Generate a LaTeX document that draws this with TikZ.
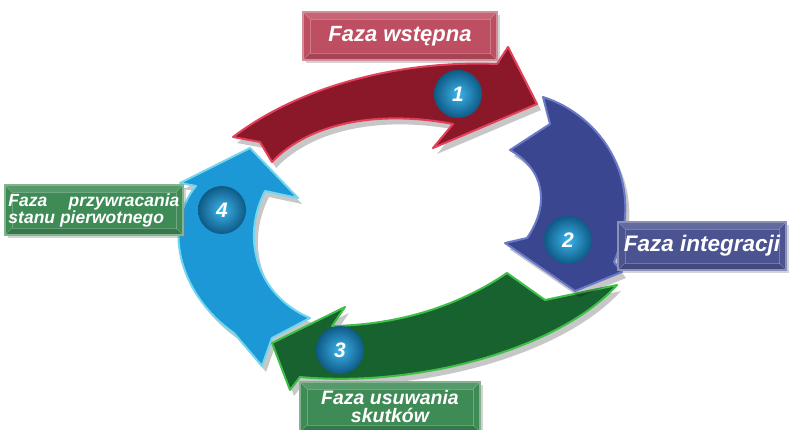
\documentclass[tikz,border=0pt]{standalone}
\usepackage{fontspec}
\setmainfont{Liberation Sans}
\usetikzlibrary{shadows}
\definecolor{redF}{HTML}{8A1828}
\definecolor{redR}{HTML}{E3405A}
\definecolor{purF}{HTML}{3B4690}
\definecolor{purR}{HTML}{6B7AC8}
\definecolor{grnF}{HTML}{17622E}
\definecolor{grnR}{HTML}{3FBF4A}
\definecolor{bluF}{HTML}{1C98D6}
\definecolor{bluR}{HTML}{72D6EE}
\definecolor{boxRed}{HTML}{BE4F62}
\definecolor{boxPur}{HTML}{4B5490}
\definecolor{boxGrn}{HTML}{3E8B55}
\definecolor{ballIn}{HTML}{3DB4EA}
\definecolor{ballOut}{HTML}{0E5A86}
\tikzset{
  arrowbody/.style={fill=#1F, draw=#1R, line width=2pt, line join=round},
  arrowshadow/.style={fill=black, opacity=.22, shift={(4,6)}},
  lbl/.style={draw=#1!65!white, line width=1.2pt, fill=#1, text=white,
    font=\bfseries\itshape\fontsize{22}{23}\selectfont, inner sep=0pt, align=center,
    drop shadow={opacity=.35, shadow xshift=3pt, shadow yshift=-3pt},
    path picture={
      \coordinate (nw) at (path picture bounding box.north west);
      \coordinate (se) at (path picture bounding box.south east);
      \coordinate (ne) at (path picture bounding box.north east);
      \coordinate (sw) at (path picture bounding box.south west);
      \fill[white,opacity=.13] (nw) -- (ne) -- ([shift={(-7,7)}]ne) -- ([shift={(7,7)}]nw) -- cycle;
      \fill[black,opacity=.13] (sw) -- (se) -- ([shift={(-7,-7)}]se) -- ([shift={(7,-7)}]sw) -- cycle;
      \draw[white,opacity=.25,line width=.6pt] ([shift={(7,7)}]nw) rectangle ([shift={(-7,-7)}]se);
      \draw[white,opacity=.25,line width=.6pt] (nw) -- ++(7,7) (ne) -- ++(-7,7) (sw) -- ++(7,-7) (se) -- ++(-7,-7);
    }},
  ball/.style={circle, minimum size=48pt, inner sep=0pt, inner color=ballIn, outer color=ballOut,
    text=white, font=\bfseries\itshape\fontsize{21}{21}\selectfont},
}
\def\bluepath{(234,333) .. controls (183,298) and (160,230) .. (196,186) -- (180,183) -- (250,148) -- (298,198) -- (265,191) .. controls (240,240) and (258,296) .. (310,318) -- (272,338) -- (262,366) -- cycle}
\def\greenpath{(617,285) .. controls (560,348) and (420,388) .. (300,377) -- (290,390) -- (272,343) -- (345,307) -- (332,326) .. controls (400,325) and (460,305) .. (507,273) -- (545,300) -- cycle}
\def\purplepath{(543,97) .. controls (600,115) and (648,180) .. (614,262) -- (622,272) -- (575,291) -- (505,243) -- (527,238) .. controls (550,205) and (545,170) .. (510,150) -- (550,124) -- cycle}
\def\redpath{(233,137) .. controls (300,86) and (400,60) .. (497,64) -- (508,47) -- (537,104) -- (433,148) -- (453,124) .. controls (380,110) and (310,122) .. (272,162) -- (260,142) -- cycle}
\begin{document}
\begin{tikzpicture}[x=1pt,y=-1pt]
\useasboundingbox (0,0) rectangle (794,429);
% arrows
\fill[arrowshadow] \bluepath;
\path[arrowbody=blu] \bluepath;
\fill[arrowshadow] \greenpath;
\path[arrowbody=grn] \greenpath;
\fill[arrowshadow] \purplepath;
\path[arrowbody=pur] \purplepath;
\fill[arrowshadow] \redpath;
\path[arrowbody=red] \redpath;
% balls
\node[ball] (b1) at (458,94) {1};
\node[ball] (b2) at (568,240) {2};
\node[ball] (b3) at (340,350) {3};
\node[ball] (b4) at (222,210) {4};
% labels
\node[lbl=boxRed, minimum width=194pt, minimum height=48pt] (l1) at (400,36) {Faza wstępna};
\node[lbl=boxPur, minimum width=168pt, minimum height=48pt, font=\bfseries\itshape\fontsize{22.5}{23}\selectfont] (l2) at (702,246) {Faza integracji};
\node[lbl=boxGrn, minimum width=180pt, minimum height=50pt, font=\bfseries\itshape\fontsize{19.5}{18}\selectfont] (l3) at (390,407) {Faza usuwania\\skutków};
\node[lbl=boxGrn, minimum width=178pt, minimum height=50pt, font=\bfseries\itshape\fontsize{17.5}{17}\selectfont, align=left] (l4) at (94,210) {\parbox{171pt}{Faza\hfill przywracania\\stanu pierwotnego}};
\end{tikzpicture}
\end{document}
